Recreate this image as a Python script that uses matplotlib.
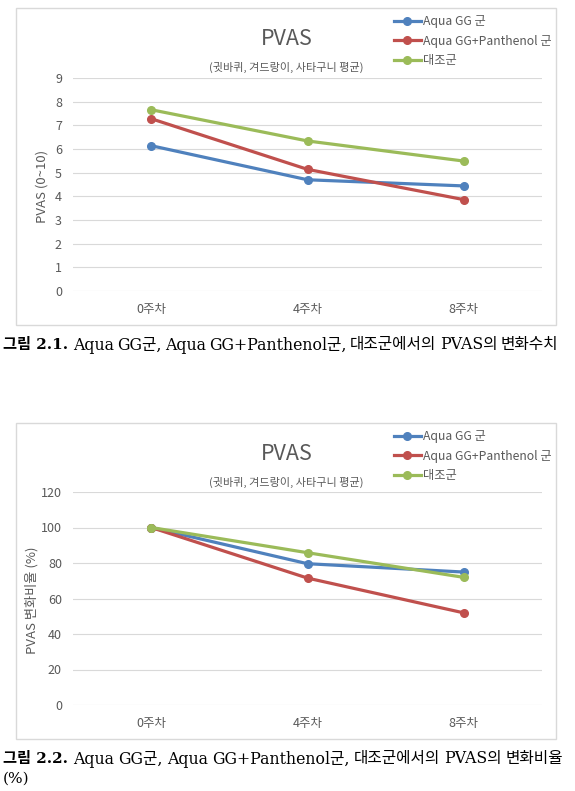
import matplotlib
matplotlib.use("Agg")
import matplotlib.pyplot as plt
from matplotlib.patches import Rectangle

plt.rcParams['font.family'] = ['Noto Sans CJK KR', 'DejaVu Sans']

weeks = ["0주차", "4주차", "8주차"]
series_names = ["Aqua GG 군", "Aqua GG+Panthenol 군", "대조군"]
colors = ["#4F81BD", "#C0504D", "#9BBB59"]

# 그림 2.1 - PVAS 점수
pvas_aqua = [6.14, 4.70, 4.44]
pvas_panth = [7.28, 5.14, 3.86]
pvas_ctrl = [7.66, 6.34, 5.49]

# 그림 2.2 - 변화비율 (%)
ratio_aqua = [100, 79.6, 74.9]
ratio_panth = [100, 71.5, 51.9]
ratio_ctrl = [100, 85.8, 71.9]

caption1 = "Aqua GG군, Aqua GG+Panthenol군, 대조군에서의 PVAS의 변화수치"
caption2 = "Aqua GG군, Aqua GG+Panthenol군, 대조군에서의 PVAS의 변화비율"

W, H = 575, 791
fig = plt.figure(figsize=(W / 100, H / 100), dpi=100)
GRAY = "#595959"
CAP_FONT = ["DejaVu Serif", "Noto Sans CJK KR"]


def fx(px):
    return px / W


def fy(py):
    return 1 - py / H


def draw_chart(box_top, box_bot, ax_top, ax_bot, data, ymax, ystep, ylabel, ylabel_x):
    # chart frame
    fig.patches.append(Rectangle((fx(16), fy(box_bot)), fx(556) - fx(16), fy(box_top) - fy(box_bot),
                                 transform=fig.transFigure, fill=False, edgecolor="#d9d9d9", lw=1.0))
    ax = fig.add_axes([fx(73), fy(ax_bot), fx(542) - fx(73), fy(ax_top) - fy(ax_bot)])
    x = range(len(weeks))
    for vals, c, name in zip(data, colors, series_names):
        ax.plot(x, vals, color=c, lw=2.3, marker="o", ms=5.5, label=name)
    ax.set_xlim(-0.5, 2.5)
    ax.set_ylim(0, ymax)
    ax.set_yticks(range(0, ymax + 1, ystep))
    ax.set_xticks(list(x))
    ax.set_xticklabels(weeks)
    ax.grid(axis="y", color="#d9d9d9", lw=0.8)
    ax.set_axisbelow(True)
    for s in ax.spines.values():
        s.set_visible(False)
    ax.tick_params(length=0, labelsize=9, labelcolor=GRAY, pad=8)
    ax.tick_params(axis="x", pad=9)
    fig.text(fx(ylabel_x), fy((ax_top + ax_bot) / 2 + 2), ylabel, rotation=90, fontsize=9.5,
             color=GRAY, ha="center", va="center")
    fig.text(fx(287), fy(box_top + 31), "PVAS", fontsize=15.5, color=GRAY, ha="center", va="center")
    fig.text(fx(286), fy(box_top + 59), "(귓바퀴, 겨드랑이, 사타구니 평균)", fontsize=8,
             color=GRAY, ha="center", va="center")
    ax.legend(loc="upper left", bbox_to_anchor=(fx(394), fy(box_top + 7)), bbox_transform=fig.transFigure,
              frameon=False, fontsize=8.8, labelcolor=GRAY, handlelength=2.2, handletextpad=0.15,
              labelspacing=0.55, borderaxespad=0, borderpad=0)
    return ax


def caption(y, label, text, x_end):
    fig.text(fx(3), fy(y), label, fontsize=11, fontweight="bold", ha="left", va="center",
             family=CAP_FONT)
    # justified words, like the document's caption line
    words = text.split(" ")
    renderer = fig.canvas.get_renderer()
    items = []
    for w in words:
        t = fig.text(0, fy(y), w, fontsize=11.3, ha="left", va="center", family=CAP_FONT)
        items.append((t, t.get_window_extent(renderer).width))
    x0 = 73
    total = sum(wd for _, wd in items)
    gap = (x_end - x0 - total) / (len(items) - 1)
    pos = x0
    for t, wd in items:
        t.set_x(fx(pos))
        pos += wd + gap


draw_chart(8, 325, 78, 291, [pvas_aqua, pvas_panth, pvas_ctrl], 9, 1, "PVAS (0~10)", 42)
draw_chart(423, 739, 492, 705, [ratio_aqua, ratio_panth, ratio_ctrl], 120, 20, "PVAS 변화비율 (%)", 32)

caption(345, "그림 2.1.", caption1, 558)
caption(759, "그림 2.2.", caption2, 563)
fig.text(fx(3), fy(779), "(%)", fontsize=11, ha="left", va="center", family=CAP_FONT)

fig.savefig("out.png", dpi=100, facecolor="white")
